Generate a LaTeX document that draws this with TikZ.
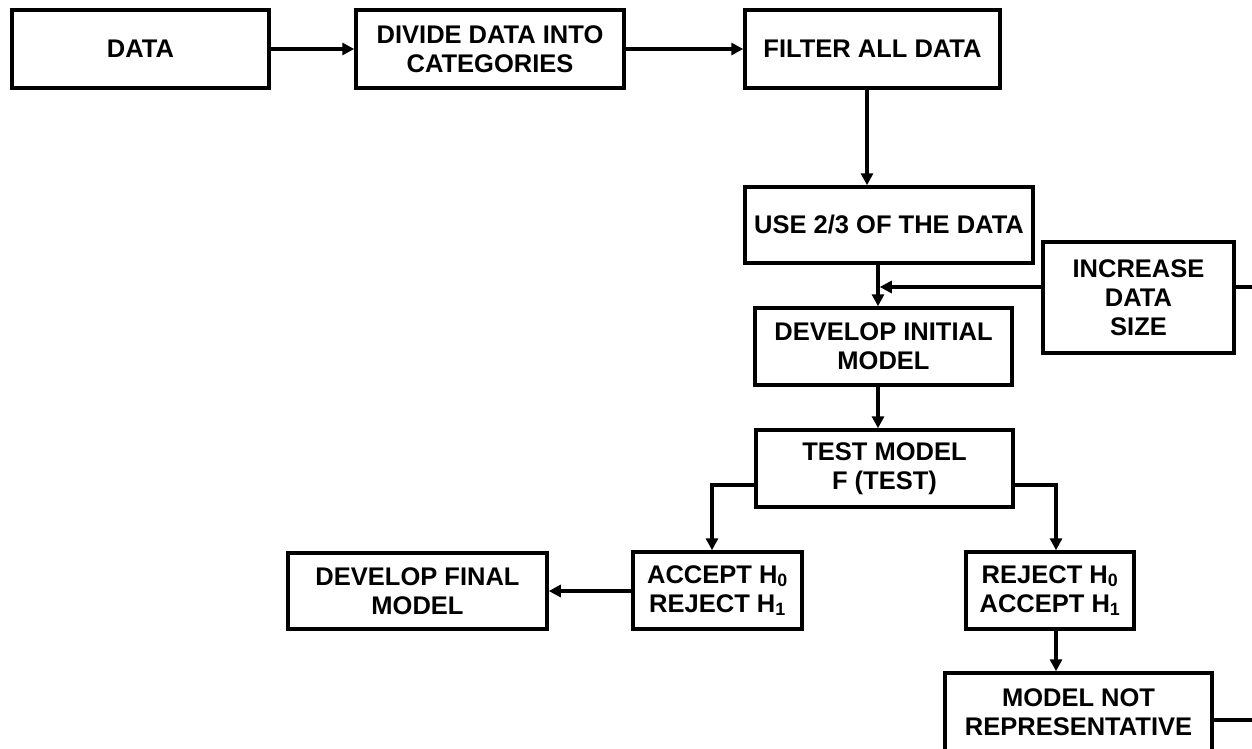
\documentclass[tikz,border=0pt]{standalone}
\usepackage{fontspec}
\setmainfont{Liberation Sans}
\usetikzlibrary{arrows.meta,calc}
\begin{document}
\begin{tikzpicture}[x=1pt,y=-1pt,
  box/.style={draw, line width=3.5pt, align=center, inner sep=0pt,
    font=\fontsize{25.5}{29}\selectfont\bfseries},
  conn/.style={line width=3.5pt},
  arr/.style={line width=3.5pt, -{Triangle[length=12pt,width=12pt]}}]
\useasboundingbox (0,0) rectangle (1252,749);
\begin{scope}
\clip (0,0) rectangle (1252,749);
\node[box, minimum width=257pt, minimum height=78pt] (data) at (140.5,49) {DATA};
\node[box, minimum width=268pt, minimum height=78pt] (divide) at (490,49) {DIVIDE DATA INTO\\CATEGORIES};
\node[box, minimum width=255pt, minimum height=78pt] (filter) at (872.5,49) {FILTER ALL DATA};
\node[box, minimum width=288pt, minimum height=76pt] (use) at (889,225) {USE 2/3 OF THE DATA};
\node[box, minimum width=257pt, minimum height=77pt] (init) at (883.5,346.5) {DEVELOP INITIAL\\MODEL};
\node[box, minimum width=191pt, minimum height=111pt] (incr) at (1138.5,297.5) {INCREASE\\DATA\\SIZE};
\node[box, minimum width=257pt, minimum height=77pt] (test) at (884.5,468.5) {TEST MODEL\\F (TEST)};
\node[box, minimum width=169pt, minimum height=77pt] (accept) at (717.5,590.5) {ACCEPT H\textsubscript{0}\\REJECT H\textsubscript{1}};
\node[box, minimum width=259pt, minimum height=76pt] (final) at (417.5,591) {DEVELOP FINAL\\MODEL};
\node[box, minimum width=168pt, minimum height=77pt] (reject) at (1050,590.5) {REJECT H\textsubscript{0}\\ACCEPT H\textsubscript{1}};
\node[box, minimum width=267pt, minimum height=78pt] (notrep) at (1078.5,712) {MODEL NOT\\REPRESENTATIVE};
\coordinate (J) at (878,287);
\coordinate (E1) at (1253,287);
\coordinate (E2) at (1253,720);
\coordinate (L) at (712,485);
\coordinate (R) at (1056,485);
\coordinate (F) at (867,0);
\draw[arr] (data.east) -- (divide.west);
\draw[arr] (divide.east) -- (filter.west);
\draw[arr] (filter.south -| F) -- (use.north -| F);
\draw[arr] (use.south -| J) -- (init.north -| J);
\draw[arr] (incr.west |- J) -- ([xshift=1.75pt]J);
\draw[conn] (incr.east |- E1) -- (E1);
\draw[arr] (init.south -| J) -- (test.north -| J);
\draw[arr] (test.west |- L) -- (L) -- (accept.north -| L);
\draw[arr] (test.east |- R) -- (R) -- (reject.north -| R);
\draw[arr] (accept.west |- final.east) -- (final.east);
\draw[arr] (reject.south -| R) -- (notrep.north -| R);
\draw[conn] (notrep.east |- E2) -- (E2);
\end{scope}
\end{tikzpicture}
\end{document}
